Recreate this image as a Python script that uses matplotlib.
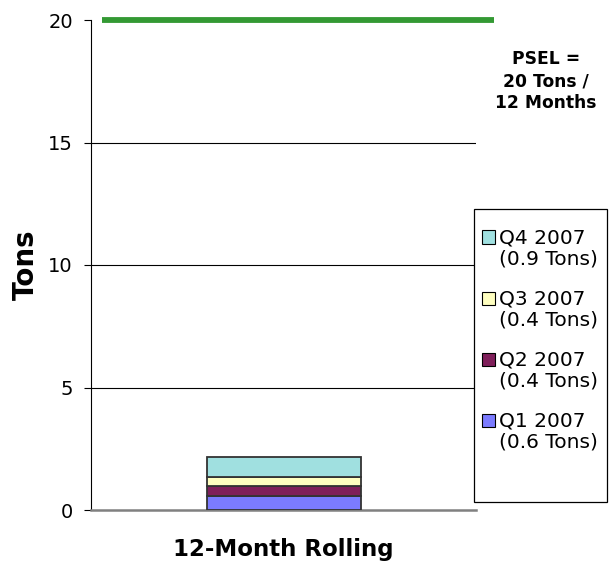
import matplotlib
matplotlib.use("Agg")
import matplotlib.pyplot as plt
from matplotlib.patches import Patch, Rectangle
from matplotlib.legend_handler import HandlerPatch

categories = ["12-Month Rolling"]
quarters = ["Q1 2007", "Q2 2007", "Q3 2007", "Q4 2007"]
values = [0.56, 0.40, 0.38, 0.82]
legend_values = ["0.6", "0.4", "0.4", "0.9"]
colors = ["#7B7BFF", "#7F1F5A", "#FFFFC0", "#A0E0E0"]
psel = 20
yticks = [0, 5, 10, 15, 20]

W, H = 613, 565
fig = plt.figure(figsize=(W / 100, H / 100), dpi=100)
ax = fig.add_axes([91 / W, 1 - 510 / H, 385 / W, 490 / H])

bottom = 0
for q, v, c in zip(quarters, values, colors):
    ax.bar(categories, [v], bottom=[bottom], width=0.4, color=c,
           edgecolor="#333333", linewidth=1.3, zorder=3)
    bottom += v

ax.set_xlim(-0.5, 0.5)
ax.set_ylim(0, 20)
ax.set_yticks(yticks)
ax.tick_params(axis="y", labelsize=14, length=5, width=0.8, pad=8, color="black")
ax.tick_params(axis="x", length=0, labelbottom=False)
for y in yticks[1:-1]:
    ax.axhline(y, color="black", linewidth=0.8, zorder=1)

ax.spines["top"].set_visible(False)
ax.spines["right"].set_visible(False)
ax.spines["left"].set_color("black")
ax.spines["left"].set_linewidth(0.8)
ax.spines["bottom"].set_color("#808080")
ax.spines["bottom"].set_linewidth(1.8)

# PSEL limit line
ax.plot([0.029, 1.047], [psel, psel], color="#339933", linewidth=4.2,
        transform=ax.get_yaxis_transform(), clip_on=False, zorder=5,
        solid_capstyle="butt")

ax.set_ylabel("Tons", fontsize=20, fontweight="bold", labelpad=6)
ax.set_xlabel(categories[0], fontsize=16.5, fontweight="bold", labelpad=20)

fig.text(546 / W, 1 - 81 / H, "PSEL =\n20 Tons /\n12 Months", ha="center",
         va="center", fontsize=12.3, fontweight="bold", linespacing=1.25)

# legend frame
frame = Rectangle((474 / W, 1 - 502 / H), 133 / W, 293 / H,
                  transform=fig.transFigure, facecolor="white",
                  edgecolor="black", linewidth=0.9, zorder=4)
fig.add_artist(frame)


def shifted_patch(legend, orig_handle, xdescent, ydescent, width, height, fontsize):
    return Rectangle((-xdescent, -ydescent + 0.57 * fontsize), width, height)


handles = [Patch(facecolor=c, edgecolor="black", linewidth=0.8) for c in colors][::-1]
labels = [f"{q}\n({v} Tons)" for q, v in zip(quarters, legend_values)][::-1]
leg = fig.legend(handles, labels, loc="upper left",
                 bbox_to_anchor=(482 / W, 1 - 228 / H),
                 fontsize=14.5, frameon=False, handlelength=0.65,
                 handleheight=0.65, handletextpad=0.2, labelspacing=1.05,
                 borderpad=0, borderaxespad=0,
                 handler_map={Patch: HandlerPatch(patch_func=shifted_patch)})
leg.set_zorder(6)
for t in leg.get_texts():
    t.set_linespacing(1.14)

fig.savefig("out.png", dpi=100)
